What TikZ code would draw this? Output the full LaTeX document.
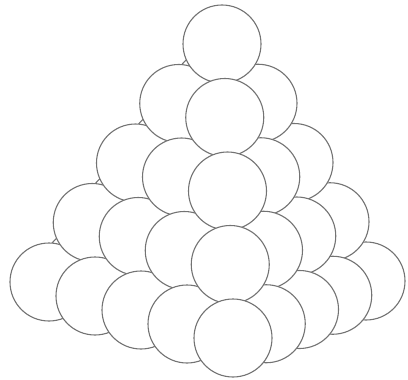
\documentclass[tikz,border=0pt]{standalone}
\begin{document}
\begin{tikzpicture}[x=1pt,y=-1pt,
  ball/.style={circle,draw=black!55,line width=1.1pt,fill=white,minimum size=78pt,inner sep=0pt,outer sep=0pt}]
\useasboundingbox (0,0) rectangle (408,380);
\foreach \s/\k in {0/4,1/4,0/3,2/4,1/3,0/2,3/4,2/3,1/2,4/4,0/1,3/3,2/2,5/4,1/1,4/3,0/0,3/2,6/4,2/1,5/3,4/2,7/4,6/3,8/4} {
  \pgfmathtruncatemacro\imin{max(0,\s-\k)}
  \pgfmathtruncatemacro\imax{min(\k,\s)}
  \foreach \i in {\imin,...,\imax} {
    \pgfmathtruncatemacro\j{\s-\i}
    \node[ball] (b\i\j\k) at ({222 - 10*\k - 33.25*\i + 46*\j}, {44 + 45.25*\k + 14.25*\i + 14*\j}) {};
  }
}
\end{tikzpicture}
\end{document}
